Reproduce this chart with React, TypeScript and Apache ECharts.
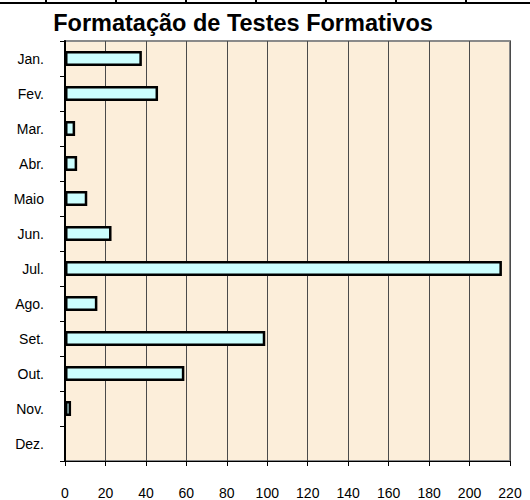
import React, { useEffect, useRef } from "react";
import * as echarts from "echarts";

const months = ["Jan.", "Fev.", "Mar.", "Abr.", "Maio", "Jun.", "Jul.", "Ago.", "Set.", "Out.", "Nov.", "Dez."];
const values = [38, 46, 5, 6, 11, 23, 216, 16, 99, 59, 3, 0];
const titleText = "Formatação de Testes Formativos";
const xMin = 0;
const xMax = 220;
const xInterval = 20;
const tableCols = [46, 116, 186, 256, 326, 396, 466];

export default function App() {
  const ref = useRef<HTMLDivElement>(null);
  useEffect(() => {
    if (!ref.current) return;
    const chart = echarts.init(ref.current, null, { renderer: "svg" });
    const font = "Arial, 'Liberation Sans', sans-serif";
    const graphics: any[] = [
      {
        type: "line",
        shape: { x1: 0, y1: 3, x2: 530, y2: 3 },
        style: { stroke: "#000", lineWidth: 2 },
        silent: true,
      },
      ...tableCols.map((x) => ({
        type: "line",
        shape: { x1: x, y1: 0, x2: x, y2: 4 },
        style: { stroke: "#000", lineWidth: 2 },
        silent: true,
      })),
      {
        type: "text",
        x: 243,
        y: 23,
        style: {
          text: titleText,
          fontFamily: font,
          fontWeight: "bold",
          fontSize: 23.5,
          fill: "#000",
          textAlign: "center",
          textVerticalAlign: "middle",
        },
      },
    ];
    chart.setOption({
      animation: false,
      backgroundColor: "#fff",
      textStyle: { fontFamily: font },
      graphic: graphics,
      grid: {
        left: 65,
        right: 20,
        top: 41,
        bottom: 37,
        show: true,
        backgroundColor: "#FCEEDA",
        borderColor: "#8a8a8a",
        borderWidth: 2,
        containLabel: false,
      },
      xAxis: {
        type: "value",
        min: xMin,
        max: xMax,
        interval: xInterval,
        axisLine: { show: true, lineStyle: { color: "#000", width: 1 } },
        axisTick: { show: true, length: 5, lineStyle: { color: "#000" } },
        axisLabel: { color: "#000", fontSize: 14, margin: 25, fontFamily: font },
        splitLine: { show: true, lineStyle: { color: "#4a4a4a", width: 1 } },
      },
      yAxis: {
        type: "category",
        data: months,
        inverse: true,
        axisLine: { show: true, lineStyle: { color: "#000", width: 2 } },
        axisTick: { show: true, length: 5, alignWithLabel: false, lineStyle: { color: "#000" } },
        axisLabel: { color: "#000", fontSize: 14, margin: 21, fontFamily: font },
        splitLine: { show: false },
      },
      series: [
        {
          type: "bar",
          data: values.map((v) => (v === 0 ? { value: v, itemStyle: { borderWidth: 0 } } : v)),
          barWidth: 15,
          itemStyle: { color: "#CCFFFF", borderColor: "#000", borderWidth: 2.5 },
        },
      ],
    });
    return () => chart.dispose();
  }, []);
  return <div ref={ref} style={{ position: "fixed", left: 0, top: 0, width: 530, height: 500 }} />;
}
